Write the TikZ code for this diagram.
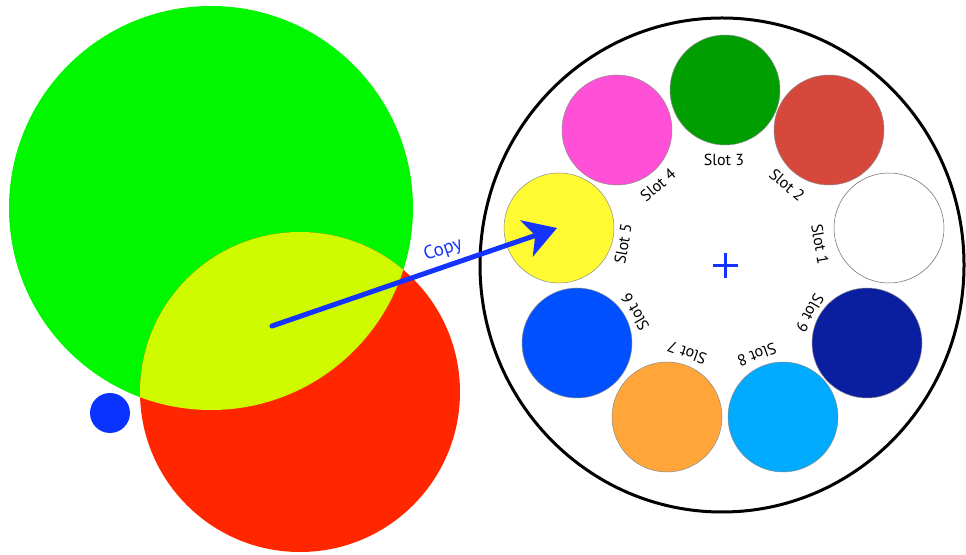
\documentclass[tikz,border=0pt]{standalone}
\usepackage{fontspec}
\setmainfont{PT Sans}
\usetikzlibrary{arrows.meta}
\definecolor{cgreen}{RGB}{0,247,0}
\definecolor{cred}{RGB}{255,38,0}
\definecolor{cyel}{RGB}{208,250,0}
\definecolor{cdot}{RGB}{10,50,255}
\definecolor{carrow}{RGB}{20,51,255}
\definecolor{sgreen}{RGB}{0,158,0}
\definecolor{sred}{RGB}{214,72,60}
\definecolor{snavy}{RGB}{10,30,160}
\definecolor{ssky}{RGB}{0,170,255}
\definecolor{sorange}{RGB}{255,165,58}
\definecolor{sblue}{RGB}{0,80,255}
\definecolor{syellow}{RGB}{255,250,50}
\definecolor{spink}{RGB}{255,80,215}
\begin{document}
\begin{tikzpicture}[x=1pt,y=1pt,
  slotc/.style={circle, minimum size=110pt, inner sep=0pt, draw=black!45, line width=0.5pt},
  slotlbl/.style={font=\fontsize{16}{18}\selectfont, inner sep=0pt, text=black}]
\useasboundingbox (0,0) rectangle (966,554);
\fill[white] (0,0) rectangle (966,554);
% overlapping discs
\fill[cgreen] (211,346) circle[radius=202];
\fill[cred] (300,162) circle[radius=160];
\begin{scope}
  \clip (211,346) circle[radius=202];
  \fill[cyel] (300,162) circle[radius=160];
\end{scope}
\node[circle, fill=cdot, minimum size=40pt, inner sep=0pt] (dot) at (110,141) {};
% wheel
\draw[line width=3pt] (722,289) ellipse[x radius=242, y radius=247];
\node[slotc, fill=sgreen]  (s3) at (725,464) {};
\node[slotc, fill=spink]   (s4) at (617,424) {};
\node[slotc, fill=sred]    (s2) at (829,424) {};
\node[slotc, fill=white, draw=black!60] (s1) at (889,326) {};
\node[slotc, fill=syellow] (s5) at (559,326) {};
\node[slotc, fill=sblue]   (s6) at (577,211) {};
\node[slotc, fill=snavy]   (s9) at (867,211) {};
\node[slotc, fill=sorange] (s7) at (667,137) {};
\node[slotc, fill=ssky]    (s8) at (783,137) {};
\node[slotlbl]             (l3) at (724,394) {Slot 3};
\node[slotlbl, rotate=40]  (l4) at (658,369) {Slot 4};
\node[slotlbl, rotate=-40] (l2) at (787,369) {Slot 2};
\node[slotlbl, rotate=-80] (l1) at (820,310) {Slot 1};
\node[slotlbl, rotate=80]  (l5) at (623,310) {Slot 5};
\node[slotlbl, rotate=120] (l6) at (635,242) {Slot 6};
\node[slotlbl, rotate=-120] (l9) at (810,241) {Slot 9};
\node[slotlbl, rotate=160] (l7) at (687,201) {Slot 7};
\node[slotlbl, rotate=-160] (l8) at (757,199) {Slot 8};
% centre mark
\coordinate (ctr) at (725.5,288.5);
\draw[carrow, line width=3pt] ([xshift=-12.5pt]ctr) -- ([xshift=12.5pt]ctr)
  ([yshift=-12.5pt]ctr) -- ([yshift=12.5pt]ctr);
% copy arrow
\coordinate (src) at (272,228);
\coordinate (dst) at (557,326);
\draw[carrow, line width=5pt, line cap=round,
  -{Stealth[length=32pt, width=38pt, inset=9pt]}] (src) -- (dst);
\node[text=carrow, rotate=19, font=\fontsize{19}{21}\selectfont, inner sep=0pt] (copy) at (443,304) {Copy};
\end{tikzpicture}
\end{document}
